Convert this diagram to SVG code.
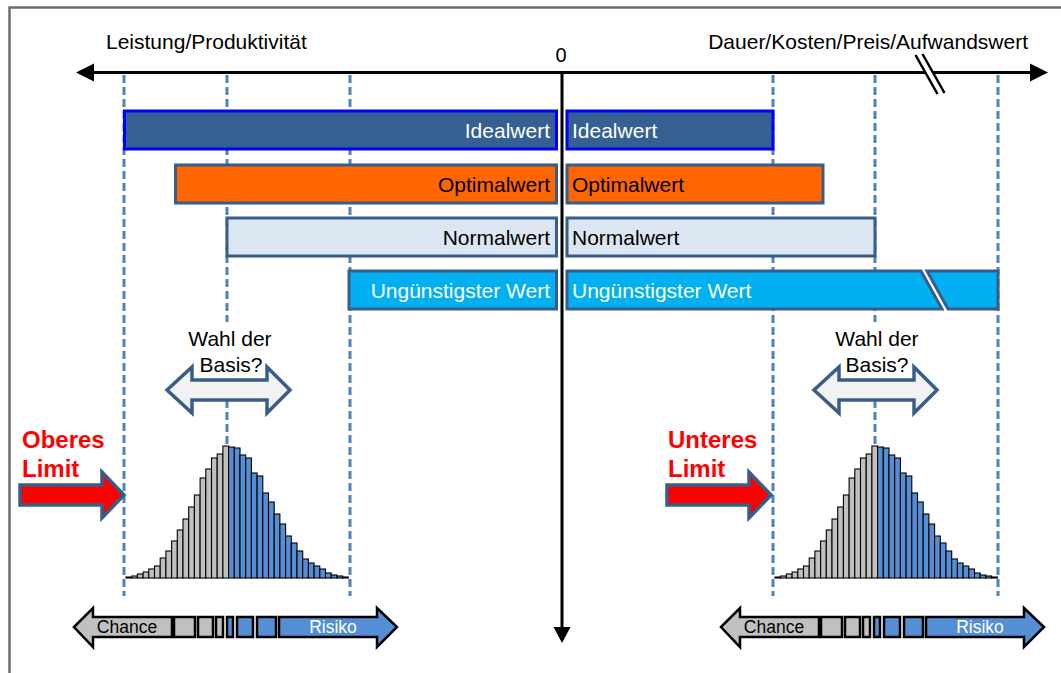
<svg xmlns="http://www.w3.org/2000/svg" xmlns:xlink="http://www.w3.org/1999/xlink" width="1061" height="673" viewBox="0 0 1061 673">
<style>
text{font-family:"Liberation Sans",Arial,sans-serif}
.hdr{font-size:21px;fill:#000}
.bt{font-size:21px}
.dash{stroke:#4F81BD;stroke-width:3;stroke-dasharray:8 4;fill:none}
.bar{stroke:#385D8A;stroke-width:3}
.g{fill:#C0C0C0;stroke:#000;stroke-width:1.1}
.b{fill:#558ED5;stroke:#000;stroke-width:1.1}
.cr{stroke:#000;stroke-width:2.5}
.red{font-size:24px;font-weight:bold;fill:#FF0000}
.dbl{fill:#F2F2F2;stroke:#385D8A;stroke-width:3.5;stroke-linejoin:miter}
.rarr{fill:#FF0000;stroke:#385D8A;stroke-width:3.5}
</style>
<defs>
<g id="hist">
<rect class="g" x="126" y="577" width="5.7" height="1"/>
<rect class="g" x="131.7" y="576" width="5.7" height="2"/>
<rect class="g" x="137.4" y="574" width="5.7" height="4"/>
<rect class="g" x="143.1" y="572" width="5.7" height="6"/>
<rect class="g" x="148.8" y="569" width="5.7" height="9"/>
<rect class="g" x="154.5" y="566" width="5.7" height="12"/>
<rect class="g" x="160.2" y="558" width="5.7" height="20"/>
<rect class="g" x="165.9" y="551" width="5.7" height="27"/>
<rect class="g" x="171.6" y="541" width="5.7" height="37"/>
<rect class="g" x="177.3" y="530" width="5.7" height="48"/>
<rect class="g" x="183" y="519" width="5.7" height="59"/>
<rect class="g" x="188.7" y="507" width="5.7" height="71"/>
<rect class="g" x="194.4" y="495" width="5.7" height="83"/>
<rect class="g" x="200.1" y="478" width="5.7" height="100"/>
<rect class="g" x="205.8" y="469" width="5.7" height="109"/>
<rect class="g" x="211.5" y="458" width="5.7" height="120"/>
<rect class="g" x="217.2" y="454" width="5.7" height="124"/>
<rect class="g" x="222.9" y="446" width="5.7" height="132"/>
<rect class="b" x="228.6" y="447" width="5.7" height="131"/>
<rect class="b" x="234.3" y="448" width="5.7" height="130"/>
<rect class="b" x="240" y="455" width="5.7" height="123"/>
<rect class="b" x="245.7" y="458" width="5.7" height="120"/>
<rect class="b" x="251.4" y="473" width="5.7" height="105"/>
<rect class="b" x="257.1" y="476" width="5.7" height="102"/>
<rect class="b" x="262.8" y="493" width="5.7" height="85"/>
<rect class="b" x="268.5" y="502" width="5.7" height="76"/>
<rect class="b" x="274.2" y="514" width="5.7" height="64"/>
<rect class="b" x="279.9" y="524" width="5.7" height="54"/>
<rect class="b" x="285.6" y="536" width="5.7" height="42"/>
<rect class="b" x="291.3" y="543" width="5.7" height="35"/>
<rect class="b" x="297" y="551" width="5.7" height="27"/>
<rect class="b" x="302.7" y="559" width="5.7" height="19"/>
<rect class="b" x="308.4" y="563" width="5.7" height="15"/>
<rect class="b" x="314.1" y="566" width="5.7" height="12"/>
<rect class="b" x="319.8" y="569" width="5.7" height="9"/>
<rect class="b" x="325.5" y="573" width="5.7" height="5"/>
<rect class="b" x="331.2" y="575" width="5.7" height="3"/>
<rect class="b" x="336.9" y="576" width="5.7" height="2"/>
<rect class="b" x="342.6" y="577" width="5.7" height="1"/>
</g>
<g id="cr">
<path class="cr" d="M74,627 L93,608 L93,617 L172,617 L172,637 L93,637 L93,647 Z" fill="#C0C0C0"/>
<rect class="cr" x="174" y="617" width="21" height="20" fill="#C0C0C0"/>
<rect class="cr" x="198" y="617" width="15" height="20" fill="#C0C0C0"/>
<rect class="cr" x="216" y="617" width="7" height="20" fill="#C0C0C0"/>
<rect class="cr" x="227" y="617" width="6" height="20" fill="#558ED5"/>
<rect class="cr" x="237" y="617" width="16" height="20" fill="#558ED5"/>
<rect class="cr" x="257" y="617" width="19" height="20" fill="#558ED5"/>
<path class="cr" d="M279,617 L377,617 L377,608 L397,627 L377,647 L377,637 L279,637 Z" fill="#558ED5"/>
<text x="127" y="633" text-anchor="middle" font-size="17.5" fill="#000">Chance</text>
<text x="333" y="633" text-anchor="middle" font-size="17.5" fill="#FFFFFF">Risiko</text>
</g>
<path id="dblarrow" d="M167,390 L192,367 L192,380 L267,380 L267,367 L290,390 L267,413 L267,400 L192,400 L192,413 Z"/>
<path id="redarrow" d="M20,485 L102,485 L102,472 L124,495 L102,518 L102,505 L20,505 Z"/>
</defs>
<rect x="9.5" y="7.5" width="1070" height="690" fill="#FFFFFF" stroke="#6E6E6E" stroke-width="2.5"/>

<g id="guides">
<line class="dash" x1="124" y1="75" x2="124" y2="596"/>
<line class="dash" x1="227" y1="75" x2="227" y2="322"/>
<line class="dash" x1="227" y1="400" x2="227" y2="446"/>
<line class="dash" x1="350" y1="75" x2="350" y2="596"/>
<line class="dash" x1="773" y1="75" x2="773" y2="596"/>
<line class="dash" x1="875" y1="75" x2="875" y2="322"/>
<line class="dash" x1="875" y1="400" x2="875" y2="446"/>
<line class="dash" x1="998" y1="75" x2="998" y2="596"/>
</g>

<g id="axes">
<line x1="82" y1="72.5" x2="1040" y2="72.5" stroke="#000" stroke-width="3"/>
<polygon points="76,72.5 94,63.5 94,81.5" fill="#000"/>
<polygon points="1048,72.5 1030,63.5 1030,81.5" fill="#000"/>
<line x1="919" y1="54" x2="941" y2="94" stroke="#FFF" stroke-width="7"/>
<line x1="915.5" y1="55" x2="937.5" y2="94" stroke="#000" stroke-width="2.5"/>
<line x1="922.5" y1="54" x2="944.5" y2="93" stroke="#000" stroke-width="2.5"/>
<line x1="562" y1="71" x2="562" y2="630" stroke="#000" stroke-width="3"/>
<polygon points="562,643 553.5,627 570.5,627" fill="#000"/>
<text class="hdr" x="106" y="49">Leistung/Produktivität</text>
<text class="hdr" x="1028" y="49" text-anchor="end">Dauer/Kosten/Preis/Aufwandswert</text>
<text x="561" y="62" text-anchor="middle" font-size="20">0</text>
</g>

<g id="ideal">
<rect x="124.5" y="111" width="432" height="38" fill="#366092" stroke="#0000FF" stroke-width="3"/>
<rect x="567" y="111" width="206" height="38" fill="#366092" stroke="#0000FF" stroke-width="3"/>
<text class="bt" x="550" y="137.5" text-anchor="end" fill="#FFFFFF">Idealwert</text>
<text class="bt" x="572" y="137.5" fill="#FFFFFF">Idealwert</text>
</g>
<g id="optimal">
<rect class="bar" x="175.5" y="165" width="381" height="38" fill="#FF6600"/>
<rect class="bar" x="567" y="165" width="256" height="38" fill="#FF6600"/>
<text class="bt" x="550" y="191.5" text-anchor="end" fill="#000">Optimalwert</text>
<text class="bt" x="572" y="191.5" fill="#000">Optimalwert</text>
</g>
<g id="normal">
<rect class="bar" x="227" y="218" width="329.5" height="38" fill="#DCE6F2"/>
<rect class="bar" x="567" y="218" width="308" height="38" fill="#DCE6F2"/>
<text class="bt" x="550" y="244.5" text-anchor="end" fill="#000">Normalwert</text>
<text class="bt" x="572" y="244.5" fill="#000">Normalwert</text>
</g>
<g id="worst">
<rect class="bar" x="349" y="271" width="207.5" height="38" fill="#00B0F0"/>
<polygon class="bar" points="567,271 921,271 942,309 567,309" fill="#00B0F0"/>
<polygon class="bar" points="927,271 998,271 998,309 948,309" fill="#00B0F0"/>
<text class="bt" x="550" y="297.5" text-anchor="end" fill="#FFFFFF">Ungünstigster Wert</text>
<text class="bt" x="572" y="297.5" fill="#FFFFFF">Ungünstigster Wert</text>
</g>

<g id="basis-left">
<use xlink:href="#dblarrow" class="dbl"/>
<text x="230" y="346" text-anchor="middle" font-size="21">Wahl der</text>
<text x="231" y="372" text-anchor="middle" font-size="21">Basis?</text>
</g>
<g id="basis-right">
<use xlink:href="#dblarrow" class="dbl" transform="translate(647,0)"/>
<text x="877" y="346" text-anchor="middle" font-size="21">Wahl der</text>
<text x="877" y="372" text-anchor="middle" font-size="21">Basis?</text>
</g>

<g id="limit-upper">
<use xlink:href="#redarrow" class="rarr"/>
<text class="red" x="22" y="448">Oberes</text>
<text class="red" x="22" y="477">Limit</text>
</g>
<g id="limit-lower">
<use xlink:href="#redarrow" class="rarr" transform="translate(647,0)"/>
<text class="red" x="668" y="448">Unteres</text>
<text class="red" x="668" y="477">Limit</text>
</g>

<g id="hist-left"><use xlink:href="#hist"/></g>
<g id="hist-right"><use xlink:href="#hist" transform="translate(649,0)"/></g>

<g id="chance-risiko-left"><use xlink:href="#cr"/></g>
<g id="chance-risiko-right"><use xlink:href="#cr" transform="translate(647,0)"/></g>
</svg>
